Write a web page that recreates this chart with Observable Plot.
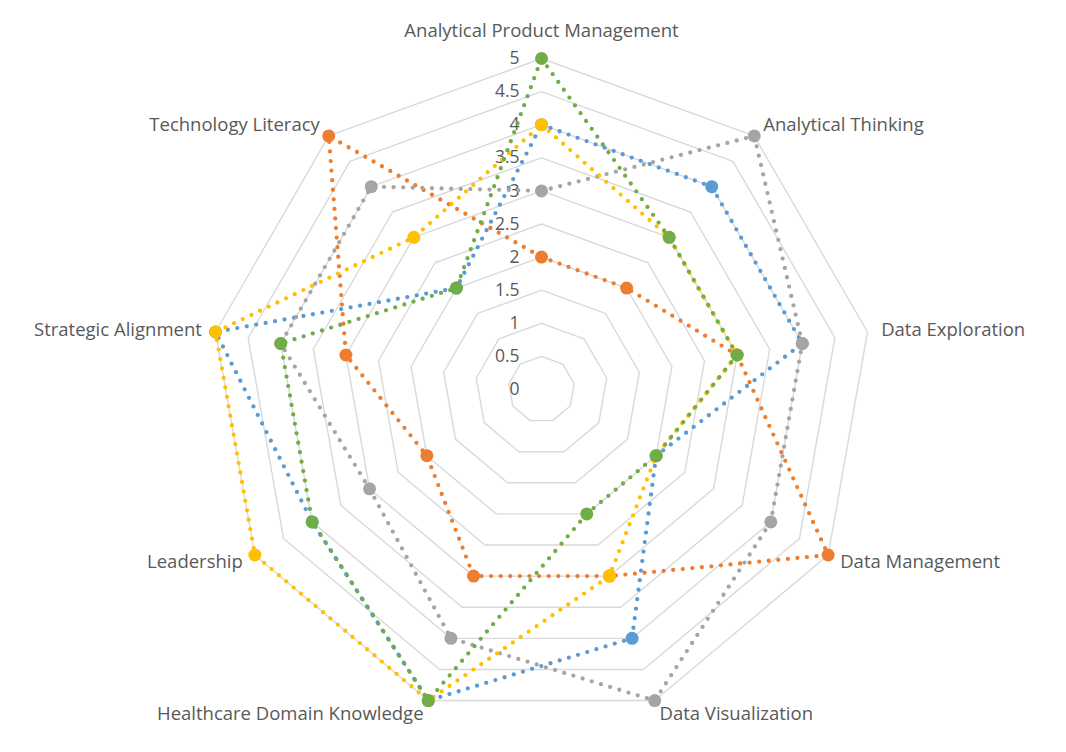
<!DOCTYPE html>
<html>
<head>
<meta charset="utf-8">
<script src="https://cdn.jsdelivr.net/npm/d3@7"></script>
<script src="https://cdn.jsdelivr.net/npm/@observablehq/plot@0.6"></script>
<style>
  html, body { margin: 0; padding: 0; background: #fff; }
  #chart svg { overflow: visible; display: block; }
</style>
</head>
<body>
<div id="chart"></div>
<script>
const categories = [
  "Analytical Product Management",
  "Analytical Thinking",
  "Data Exploration",
  "Data Management",
  "Data Visualization",
  "Healthcare Domain Knowledge",
  "Leadership",
  "Strategic Alignment",
  "Technology Literacy"
];
const seriesNames = ["Series1", "Series2", "Series3", "Series4", "Series5"];
const seriesColors = ["#5B9BD5", "#ED7D31", "#A5A5A5", "#FFC000", "#70AD47"];
const series1Values = [4, 4, 4, 2, 4, 5, 4, 5, 2];
const series2Values = [2, 2, 3, 5, 3, 3, 2, 3, 5];
const series3Values = [3, 5, 4, 4, 5, 4, 3, 4, 4];
const series4Values = [4, 3, 3, 2, 3, 5, 5, 5, 3];
const series5Values = [5, 3, 3, 2, 2, 5, 4, 4, 2];
const tickLevels = [0, 0.5, 1, 1.5, 2, 2.5, 3, 3.5, 4, 4.5, 5];

const allValues = [series1Values, series2Values, series3Values, series4Values, series5Values];
const n = categories.length;
const ang = i => (2 * Math.PI * i) / n;
const px = (i, v) => v * Math.sin(ang(i));
const py = (i, v) => v * Math.cos(ang(i));

// grid rings
const ringData = [];
tickLevels.filter(l => l > 0).forEach(l => {
  for (let i = 0; i <= n; i++) ringData.push({level: l, x: px(i % n, l), y: py(i % n, l)});
});

// category labels
const labelData = categories.map((c, i) => {
  const s = Math.sin(ang(i));
  const r = i === 0 ? 5.41 : 5.21;
  return {name: c, x: px(i, r), y: py(i, r), anchor: s > 0.1 ? "start" : s < -0.1 ? "end" : "middle"};
});

const font = "'Open Sans', 'Segoe UI', sans-serif";
const textColor = "#595959";

const marks = [
  Plot.line(ringData, {x: "x", y: "y", z: "level", stroke: "#D9D9D9", strokeWidth: 1.4}),
  Plot.text(tickLevels, {x: () => 0, y: d => d, text: d => String(d), textAnchor: "end", dx: -22, fill: textColor, fontSize: 17.5, fontFamily: font}),
  ...["start", "middle", "end"].map(a =>
    Plot.text(labelData.filter(d => d.anchor === a), {x: "x", y: "y", text: "name", textAnchor: a, fill: textColor, fontSize: 18.5, fontFamily: font})
  )
];

allValues.forEach((vals, k) => {
  const pts = vals.map((v, i) => ({series: seriesNames[k], cat: categories[i], x: px(i, v), y: py(i, v)}));
  const closed = pts.concat([pts[0]]);
  marks.push(Plot.line(closed, {x: "x", y: "y", stroke: seriesColors[k], strokeWidth: 4.3, strokeDasharray: "0 9.6", strokeLinecap: "round"}));
  marks.push(Plot.dot(pts, {x: "x", y: "y", r: 6.5, fill: seriesColors[k], stroke: "none"}));
});

const chart = Plot.plot({
  width: 1066,
  height: 752,
  marginLeft: 210,
  marginRight: 194,
  marginTop: 58,
  marginBottom: 32,
  x: {domain: [-5, 5], axis: null},
  y: {domain: [-5, 5], axis: null},
  style: {background: "#fff"},
  marks
});
document.getElementById("chart").appendChild(chart);
</script>
</body>
</html>
